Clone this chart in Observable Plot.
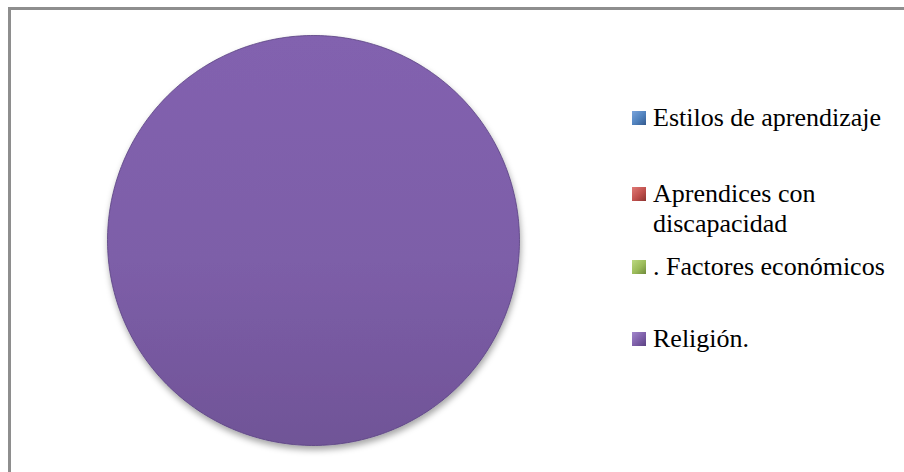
<!DOCTYPE html>
<html>
<head>
<meta charset="utf-8">
<script src="https://cdn.jsdelivr.net/npm/d3@7"></script>
<script src="https://cdn.jsdelivr.net/npm/@observablehq/plot@0.6"></script>
<style>
  html, body { margin: 0; padding: 0; background: #fff; }
  #wrap { position: relative; width: 904px; height: 472px; overflow: hidden; background: #fff; }
  #frame { position: absolute; left: 8px; top: 7px; width: 1000px; height: 1000px;
           border-left: 3px solid #8e8e8e; border-top: 3px solid #8e8e8e; box-sizing: border-box; }
  #chart { position: absolute; left: 0; top: 0; }
  .leg { position: absolute; left: 632px; font-size: 26px; line-height: 30px; color: #000; }
  .leg .sw { position: absolute; left: 0; width: 14px; height: 14px; }
  .leg .tx { position: absolute; left: 21px; top: 0; white-space: nowrap; }
</style>
</head>
<body>
<div id="wrap">
  <div id="frame"></div>
  <div id="chart"></div>
</div>
<script>
// ---- data ----
const categories = ["Estilos de aprendizaje", "Aprendices con discapacidad", ". Factores económicos", "Religión."];
const legendLines = [["Estilos de aprendizaje"], ["Aprendices con", "discapacidad"], [". Factores económicos"], ["Religión."]];
const values = [0, 0, 0, 100];
const colors = ["#4f81bd", "#c0504d", "#9bbb59", "#7d5ea8"];
const colorsLight = ["#7aa4dc", "#e07a76", "#bcd982", "#a287cc"];
const colorsDark = ["#34598c", "#8c3330", "#6f8a3c", "#5b4282"];

// ---- pie geometry via d3.pie, drawn through Plot's x/y scales ----
const pie = d3.pie().sort(null).value(d => d.value)(categories.map((c, i) => ({cat: c, value: values[i]})));
const pts = [];
pie.forEach(a => {
  const span = a.endAngle - a.startAngle;
  if (span <= 0) return;
  const n = Math.max(2, Math.ceil(span / (Math.PI / 180)));
  const full = span >= 2 * Math.PI - 1e-9;
  if (!full) pts.push({cat: a.data.cat, x: 0, y: 0});
  for (let k = 0; k <= (full ? n - 1 : n); k++) {
    const t = a.startAngle + span * k / n;
    pts.push({cat: a.data.cat, x: Math.sin(t), y: Math.cos(t)});
  }
});

const W = 904, H = 472;
const plot = Plot.plot({
  width: W, height: H,
  marginLeft: 107, marginRight: 385, marginTop: 35, marginBottom: 27,
  x: {domain: [-1, 1], axis: null},
  y: {domain: [-1, 1], axis: null},
  color: {domain: categories, range: categories.map((c, i) => `url(#grad${i})`)},
  style: {background: "transparent", overflow: "visible"},
  marks: [
    Plot.line(pts, {x: "x", y: "y", z: "cat", fill: "cat", stroke: "#584080", strokeWidth: 0.8, curve: "linear-closed"})
  ]
});

const svg = d3.select(plot);
const defs = svg.insert("defs", ":first-child");
colors.forEach((c, i) => {
  const g = defs.append("linearGradient").attr("id", `grad${i}`).attr("x1", 0).attr("y1", 0).attr("x2", 0).attr("y2", 1);
  g.append("stop").attr("offset", "0%").attr("stop-color", d3.color(c).brighter(0.12));
  g.append("stop").attr("offset", "55%").attr("stop-color", c);
  g.append("stop").attr("offset", "100%").attr("stop-color", d3.color(c).darker(0.3));
});
const f = defs.append("filter").attr("id", "shadow").attr("x", "-10%").attr("y", "-10%").attr("width", "120%").attr("height", "125%");
f.append("feDropShadow").attr("dx", 1).attr("dy", 4).attr("stdDeviation", 3).attr("flood-color", "#000").attr("flood-opacity", 0.35);
svg.selectAll("path").attr("filter", "url(#shadow)");

document.getElementById("chart").appendChild(plot);

// ---- legend (HTML) ----
const baselines = [127, 203, 276, 348];
const wrap = document.getElementById("wrap");
legendLines.forEach((lines, i) => {
  const item = document.createElement("div");
  item.className = "leg";
  item.style.top = (baselines[i] - 24) + "px";
  const sw = document.createElement("div");
  sw.className = "sw";
  sw.style.top = "8px";
  sw.style.background = `linear-gradient(135deg, ${colorsLight[i]}, ${colors[i]} 55%, ${colorsDark[i]})`;
  item.appendChild(sw);
  const tx = document.createElement("div");
  tx.className = "tx";
  tx.style.fontFamily = "'Liberation Serif'";
  tx.innerHTML = lines.join("<br>");
  item.appendChild(tx);
  wrap.appendChild(item);
});
</script>
</body>
</html>
